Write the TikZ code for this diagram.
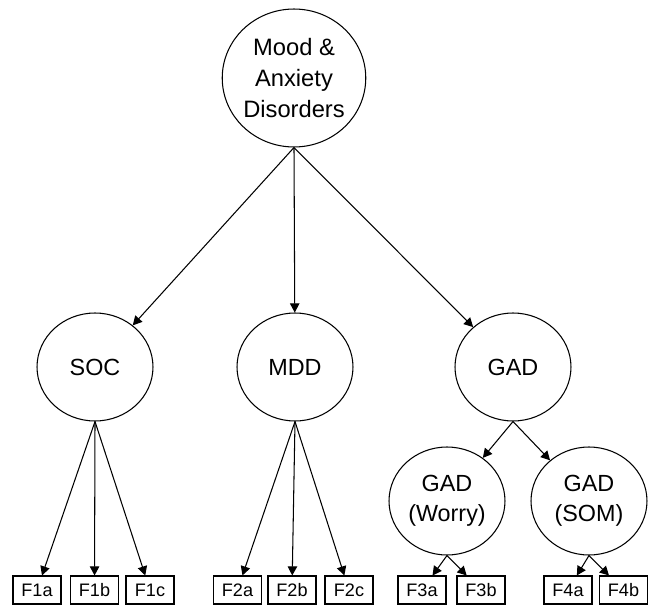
\documentclass[tikz,border=0pt]{standalone}
\usepackage{fontspec}
\setmainfont{Liberation Sans}
\usetikzlibrary{shapes.geometric,arrows.meta}

\begin{document}
\begin{tikzpicture}[
    x=0.02cm, y=-0.02cm,
    latent/.style={ellipse, draw, line width=0.6pt, inner sep=0pt, minimum width=2.32cm, minimum height=2.16cm, align=center, font=\fontsize{13.3}{17}\selectfont},
    indicator/.style={rectangle, draw, line width=0.6pt, inner sep=0pt, minimum width=0.96cm, minimum height=0.56cm, font=\fontsize{10.3}{12}\selectfont},
    arrow/.style={-{Triangle[length=5.2pt,width=5.4pt]}, line width=0.6pt}
]
    \useasboundingbox (0,0) rectangle (650,605);

    \node[latent, minimum width=2.76cm, minimum height=2.76cm, font=\fontsize{13.5}{17.6}\selectfont] (mood) at (294,78) {Mood \&\\Anxiety\\Disorders};

    \node[latent] (soc) at (95,367) {SOC};
    \node[latent] (mdd) at (295,367) {MDD};
    \node[latent] (gad) at (513,367) {GAD};
    \node[latent] (worry) at (447,501) {GAD\\(Worry)};
    \node[latent] (som) at (589,501) {GAD\\(SOM)};

    \node[indicator] (f1a) at (37,590) {F1a};
    \node[indicator] (f1b) at (94.5,590) {F1b};
    \node[indicator] (f1c) at (150,590) {F1c};
    \node[indicator] (f2a) at (237.5,590) {F2a};
    \node[indicator] (f2b) at (292,590) {F2b};
    \node[indicator] (f2c) at (349,590) {F2c};
    \node[indicator] (f3a) at (422,590) {F3a};
    \node[indicator] (f3b) at (481,590) {F3b};
    \node[indicator] (f4a) at (568,590) {F4a};
    \node[indicator] (f4b) at (623.5,590) {F4b};

    \draw[arrow] (mood.south) -- (soc);
    \draw[arrow] (mood.south) -- (mdd);
    \draw[arrow] (mood.south) -- (gad);

    \draw[arrow] (soc.south) -- (f1a);
    \draw[arrow] (soc.south) -- (f1b);
    \draw[arrow] (soc.south) -- (f1c);
    \draw[arrow] (mdd.south) -- (f2a);
    \draw[arrow] (mdd.south) -- (f2b);
    \draw[arrow] (mdd.south) -- (f2c);

    \draw[arrow] (gad.south) -- (worry);
    \draw[arrow] (gad.south) -- (som);
    \draw[arrow] (worry.south) -- (f3a);
    \draw[arrow] (worry.south) -- (f3b);
    \draw[arrow] (som.south) -- (f4a);
    \draw[arrow] (som.south) -- (f4b);
\end{tikzpicture}
\end{document}
